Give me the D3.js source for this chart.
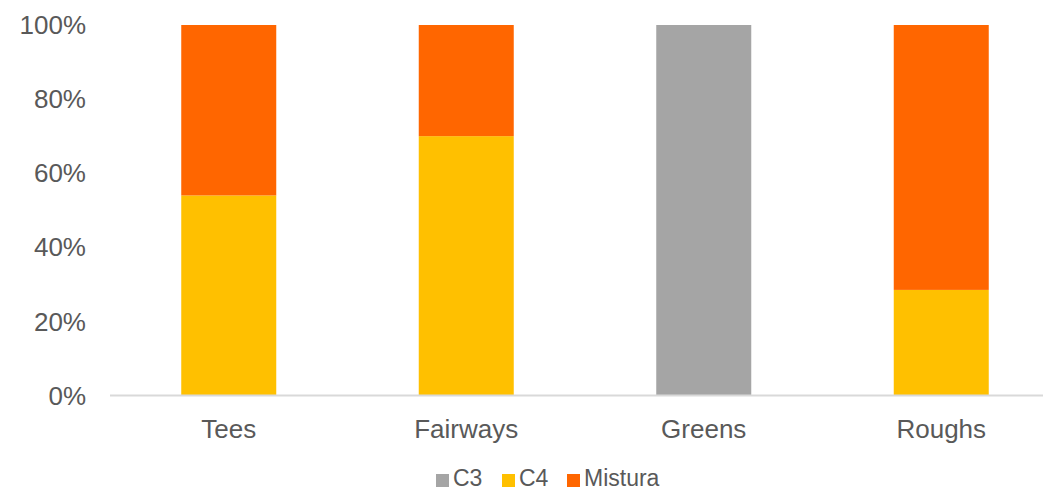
<!DOCTYPE html>
<html>
<head>
<meta charset="utf-8">
<script src="https://cdn.jsdelivr.net/npm/d3@7"></script>
<style>
  body { margin: 0; background: #fff; }
  text { font-family: "Liberation Sans", Arial, sans-serif; fill: #595959; }
</style>
</head>
<body>
<script>
// ---------------------- DATA ----------------------
const categories = ["Tees", "Fairways", "Greens", "Roughs"];
const seriesNames = ["C3", "C4", "Mistura"];
const c3Values = [0, 0, 100, 0];
const c4Values = [54, 70, 0, 28.5];
const misturaValues = [46, 30, 0, 71.5];
const yTicks = [0, 20, 40, 60, 80, 100];
const colors = ["#a5a5a5", "#ffc000", "#ff6600"];

// ---------------------- RENDER ----------------------
const width = 1043, height = 491;
const svg = d3.select("body").append("svg")
    .attr("width", width)
    .attr("height", height);

const rows = categories.map((c, i) => ({
    cat: c, C3: c3Values[i], C4: c4Values[i], Mistura: misturaValues[i]
}));

// plot area runs a bit past the right edge, like the original
const x = d3.scaleBand().domain(categories).range([110, 1060])
    .paddingInner(0.6).paddingOuter(0.3);
const y = d3.scaleLinear().domain([0, 100]).range([395.5, 25]);

const stacked = d3.stack().keys(seriesNames)(rows);

// bars
svg.selectAll(".series")
    .data(stacked)
    .enter().append("g")
    .attr("fill", (d, i) => colors[i])
    .selectAll("rect")
    .data(d => d)
    .enter().append("rect")
    .attr("x", d => x(d.data.cat))
    .attr("width", x.bandwidth())
    .attr("y", d => y(d[1]))
    .attr("height", d => y(d[0]) - y(d[1]));

// x axis line
svg.append("line")
    .attr("x1", 110).attr("x2", width)
    .attr("y1", y(0)).attr("y2", y(0))
    .attr("stroke", "#d9d9d9")
    .attr("stroke-width", 2);

// y tick labels
svg.selectAll(".ytick")
    .data(yTicks)
    .enter().append("text")
    .attr("x", 86)
    .attr("y", d => y(d))
    .attr("dy", "0.35em")
    .attr("text-anchor", "end")
    .style("font-size", "26px")
    .text(d => d + "%");

// category labels
svg.selectAll(".xlab")
    .data(categories)
    .enter().append("text")
    .attr("x", d => x(d) + x.bandwidth() / 2)
    .attr("y", 438)
    .attr("text-anchor", "middle")
    .style("font-size", "26px")
    .text(d => d);

// legend
const legendX = [436, 502, 567];
const legend = svg.selectAll(".legend")
    .data(seriesNames)
    .enter().append("g")
    .attr("transform", (d, i) => `translate(${legendX[i]}, 474)`);

legend.append("rect")
    .attr("width", 13).attr("height", 13)
    .attr("fill", (d, i) => colors[i]);

legend.append("text")
    .attr("x", 17)
    .attr("y", 11.5)
    .style("font-size", "23px")
    .text(d => d);
</script>
</body>
</html>
